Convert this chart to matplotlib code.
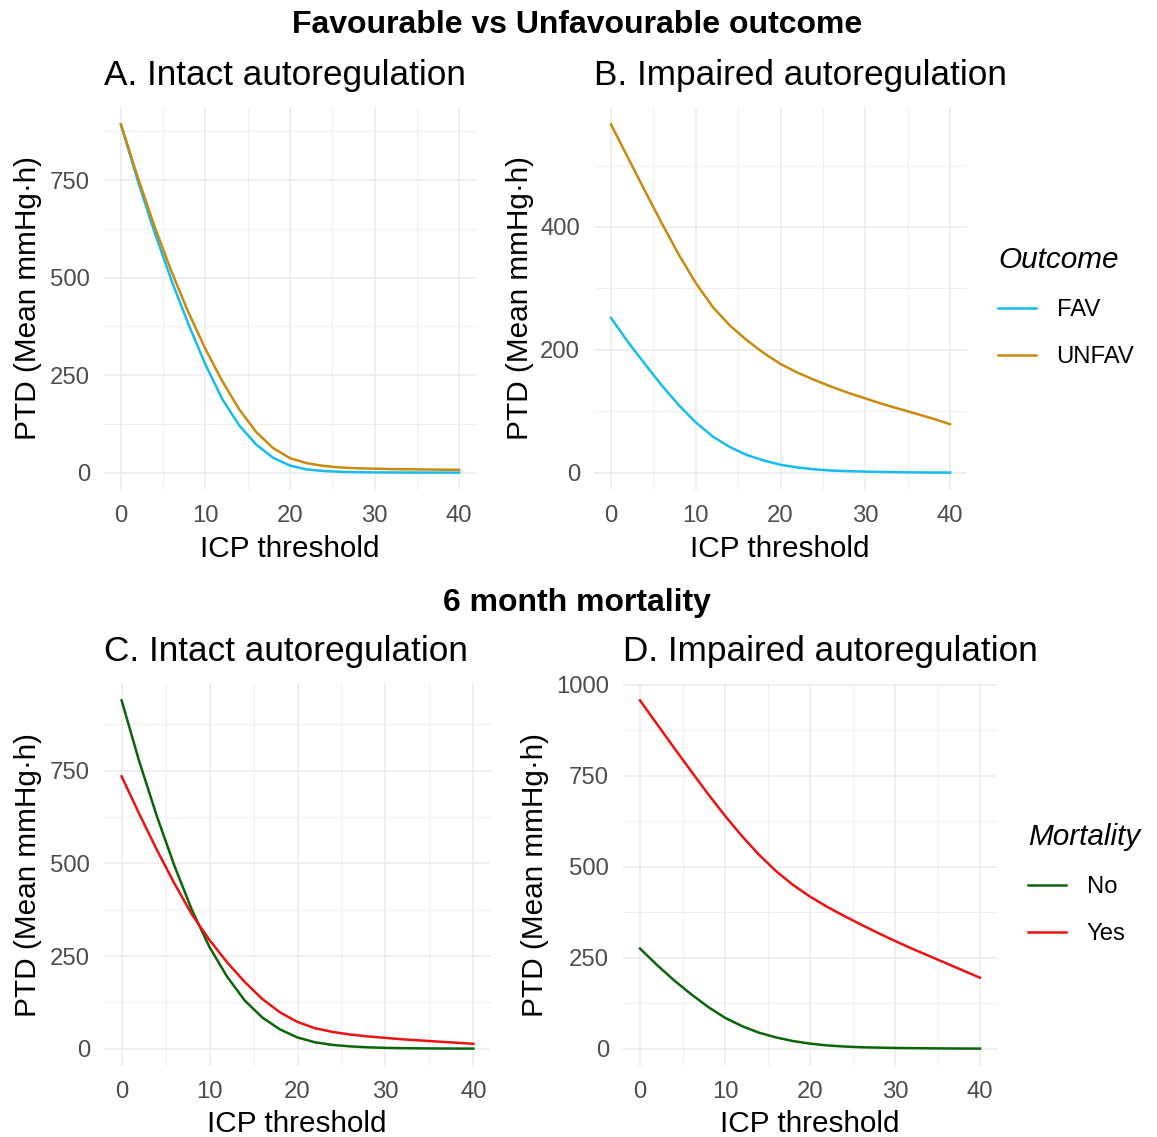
import numpy as np
import matplotlib.pyplot as plt
from matplotlib.lines import Line2D

plt.rcParams['font.family'] = ['Liberation Sans', 'DejaVu Sans']

# ICP thresholds (x axis)
icp = [0, 2, 4, 6, 8, 10, 12, 14, 16, 18, 20, 22, 24, 26, 28, 30, 32, 34, 36, 38, 40]

# A. favourable vs unfavourable, intact autoregulation
a_fav = [893, 748, 615, 492, 380, 277, 188, 121, 72, 38, 18, 8, 4, 2, 1, 0.5, 0.3, 0.2, 0.1, 0.1, 0]
a_unfav = [893, 757, 630, 515, 410, 317, 234, 162, 104, 63, 37, 24, 17, 13, 11, 10, 9, 8.5, 8, 7.5, 7]

# B. favourable vs unfavourable, impaired autoregulation
b_fav = [252, 213, 177, 142, 110, 82, 59, 42, 29, 20, 13, 8.5, 5.5, 3.5, 2.5, 1.8, 1.2, 0.8, 0.5, 0.3, 0.2]
b_unfav = [567, 513, 459, 406, 355, 309, 270, 240, 216, 195, 177, 163, 151, 140, 130, 121, 112, 104, 96, 88, 79]

# C. mortality, intact autoregulation
c_no = [940, 776, 628, 494, 374, 274, 194, 130, 84, 52, 30, 17, 10, 6, 3.5, 2, 1.2, 0.7, 0.4, 0.2, 0.1]
c_yes = [735, 634, 537, 446, 362, 293, 233, 180, 134, 98, 72, 55, 45, 38, 33, 29, 25, 22, 19, 16, 13]

# D. mortality, impaired autoregulation
d_no = [275, 230, 188, 150, 115, 85, 62, 44, 31, 21, 14, 9, 6, 4, 3, 2, 1.5, 1, 0.7, 0.4, 0.3]
d_yes = [957, 892, 827, 763, 700, 640, 584, 533, 488, 450, 418, 390, 365, 341, 318, 296, 275, 255, 235, 215, 195]

outcome_labels = ['FAV', 'UNFAV']
mortality_labels = ['No', 'Yes']
c_fav, c_unfav = '#17BCEE', '#C98A0D'
c_nocol, c_yescol = '#0A650A', '#EE1111'

W, H = 1157, 1137
fig = plt.figure(figsize=(W / 100, H / 100), dpi=100)


def px_axes(left, top, right, bottom):
    return fig.add_axes([left / W, 1 - bottom / H, (right - left) / W, (bottom - top) / H])


def style(ax, series, colors, yticks):
    for ys, col in zip(series, colors):
        ax.plot(icp, ys, color=col, lw=1.8)
    lo = min(min(s) for s in series)
    hi = max(max(s) for s in series)
    pad = (hi - lo) * 0.05
    ax.set_ylim(lo - pad, hi + pad)
    ax.set_xlim(-2, 42)
    ax.set_xticks([0, 10, 20, 30, 40])
    ax.set_xticks([5, 15, 25, 35], minor=True)
    ax.set_yticks(yticks)
    step = yticks[1] - yticks[0]
    ax.set_yticks([t + step / 2 for t in yticks if t + step / 2 < hi + pad], minor=True)
    for s in ax.spines.values():
        s.set_visible(False)
    ax.grid(which='major', color='#EBEBEB', lw=1.1)
    ax.grid(which='minor', color='#EBEBEB', lw=0.6)
    ax.set_axisbelow(True)
    ax.tick_params(which='both', length=0, labelsize=17.2, labelcolor='#4D4D4D')
    ax.tick_params(axis='x', pad=10.5)
    ax.tick_params(axis='y', pad=10)


# a. panels (pixel rectangles)
axA = px_axes(104, 107, 476, 490)
axB = px_axes(594, 107, 967, 490)
axC = px_axes(104, 683, 491, 1066)
axD = px_axes(623, 683, 997, 1066)

style(axA, [a_fav, a_unfav], [c_fav, c_unfav], [0, 250, 500, 750])
style(axB, [b_fav, b_unfav], [c_fav, c_unfav], [0, 200, 400])
style(axC, [c_no, c_yes], [c_nocol, c_yescol], [0, 250, 500, 750])
style(axD, [d_no, d_yes], [c_nocol, c_yescol], [0, 250, 500, 750, 1000])


def ftext(x, y, s, **kw):
    fig.text(x / W, 1 - y / H, s, **kw)


# b. titles
ftext(577, 25, 'Favourable vs Unfavourable outcome', ha='center', va='center', fontsize=23, fontweight='bold')
ftext(577, 603, '6 month mortality', ha='center', va='center', fontsize=23, fontweight='bold')
ftext(104, 75, 'A. Intact autoregulation', ha='left', va='center', fontsize=25.3)
ftext(594, 75, 'B. Impaired autoregulation', ha='left', va='center', fontsize=25.3)
ftext(104, 651, 'C. Intact autoregulation', ha='left', va='center', fontsize=25.3)
ftext(623, 651, 'D. Impaired autoregulation', ha='left', va='center', fontsize=25.3)

# c. axis labels
for xc, yc in [(290, 549), (780, 549), (297, 1124), (810, 1124)]:
    ftext(xc, yc, 'ICP threshold', ha='center', va='center', fontsize=21.4)
for xc, yc in [(28, 298), (520, 298), (28, 875), (535, 875)]:
    ftext(xc, yc, 'PTD (Mean mmHg·h)', ha='center', va='center', fontsize=21.4, rotation=90)

# d. legends
def add_legend(labels, colors, title, x, y):
    handles = [Line2D([], [], color=c, lw=1.8) for c in colors]
    leg = fig.legend(handles, labels, title=title, loc='upper left',
                     bbox_to_anchor=(x / W, 1 - y / H), frameon=False,
                     fontsize=17.2, borderpad=0, borderaxespad=0,
                     handlelength=1.6, handletextpad=0.85, labelspacing=1.05,
                     alignment='left',
                     title_fontproperties={'size': 21.4, 'style': 'italic'})
    return leg


add_legend(outcome_labels, [c_fav, c_unfav], 'Outcome', 998, 246)
add_legend(mortality_labels, [c_nocol, c_yescol], 'Mortality', 1028, 823)

fig.savefig('out.png', dpi=100, facecolor='white')
